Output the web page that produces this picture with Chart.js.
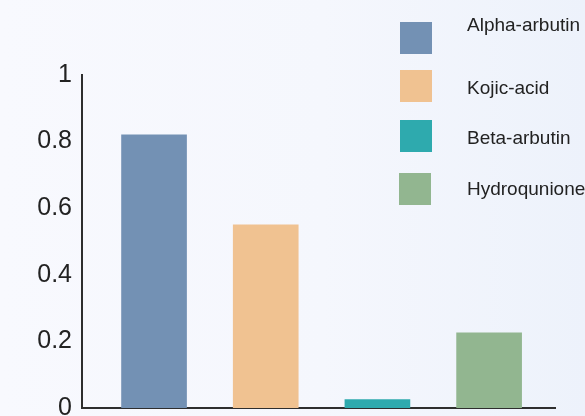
<!DOCTYPE html>
<html>
<head>
<meta charset="utf-8">
<script src="https://cdn.jsdelivr.net/npm/chart.js@4"></script>
<style>
	body { margin: 0; background: linear-gradient(to right, #f8f9fe 0%, #f5f7fd 55%, #edf2fb 100%); }
	#wrap { width: 585px; height: 416px; }
</style>
</head>
<body>
<div id="wrap"><canvas id="myChart" width="585" height="416"></canvas></div>
<script>
var categories = ["Alpha-arbutin", "Kojic-acid", "Beta-arbutin", "Hydroqunione"];
var values = [0.82, 0.55, 0.025, 0.226];
var colors = ['rgb(115, 145, 180)', 'rgb(240, 194, 145)', 'rgb(46, 170, 174)', 'rgb(146, 182, 144)'];
var yTicks = [0, 0.2, 0.4, 0.6, 0.8, 1];
var yTickLabels = ["0", "0.2", "0.4", "0.6", "0.8", "1"];

// legend drawn by hand: boxes sit over the plot area on the right
var boxLegend = {
	id: 'boxLegend',
	afterDraw: function (chart) {
		var ctx = chart.ctx;
		var boxTop = [22, 70, 120, 173];
		var textY = [31, 94, 144, 195];
		ctx.save();
		ctx.font = '19px "Liberation Sans", Arial, sans-serif';
		ctx.textBaseline = 'alphabetic';
		ctx.textAlign = 'left';
		chart.data.datasets.forEach(function (ds, i) {
			ctx.fillStyle = ds.backgroundColor;
			ctx.fillRect(i == 3 ? 399 : 400, boxTop[i], 32, 32);
			ctx.fillStyle = '#222';
			ctx.fillText(ds.label, 467, textY[i]);
		});
		ctx.restore();
	}
};

var ctx = document.getElementById("myChart");
var myChart = new Chart(ctx, {
	type: 'bar',
	data: {
		datasets: categories.map(function (c, i) {
			return {
				label: c,
				data: [{x: i + 1, y: values[i]}],
				backgroundColor: colors[i],
				barThickness: 65,
				grouped: false
			};
		})
	},
	options: {
		responsive: false,
		animation: false,
		layout: { padding: { top: 75, right: 30, left: 0, bottom: 0 } },
		plugins: { legend: { display: false }, tooltip: { enabled: false } },
		scales: {
			x: {
				type: 'linear',
				offset: false,
				min: 0.355,
				max: 4.59,
				ticks: { display: false },
				grid: { display: false, drawTicks: false },
				border: { display: true, color: '#2e2e2e', width: 2 },
				afterFit: function (s) { s.height = 8; s.paddingLeft = 0; s.paddingRight = 0; }
			},
			y: {
				min: 0,
				max: 1,
				afterBuildTicks: function (s) { s.ticks = yTicks.map(function (v) { return {value: v}; }); },
				ticks: {
					padding: 10,
					color: '#222',
					font: { family: '"Liberation Sans", Arial, sans-serif', size: 25 },
					callback: function (v, i) { return yTickLabels[i]; }
				},
				grid: { display: false, drawTicks: false },
				border: { display: true, color: '#2e2e2e', width: 2 },
				afterFit: function (s) { s.width = 82; s.paddingTop = 0; s.paddingBottom = 0; }
			}
		}
	},
	plugins: [boxLegend]
});
</script>
</body>
</html>
